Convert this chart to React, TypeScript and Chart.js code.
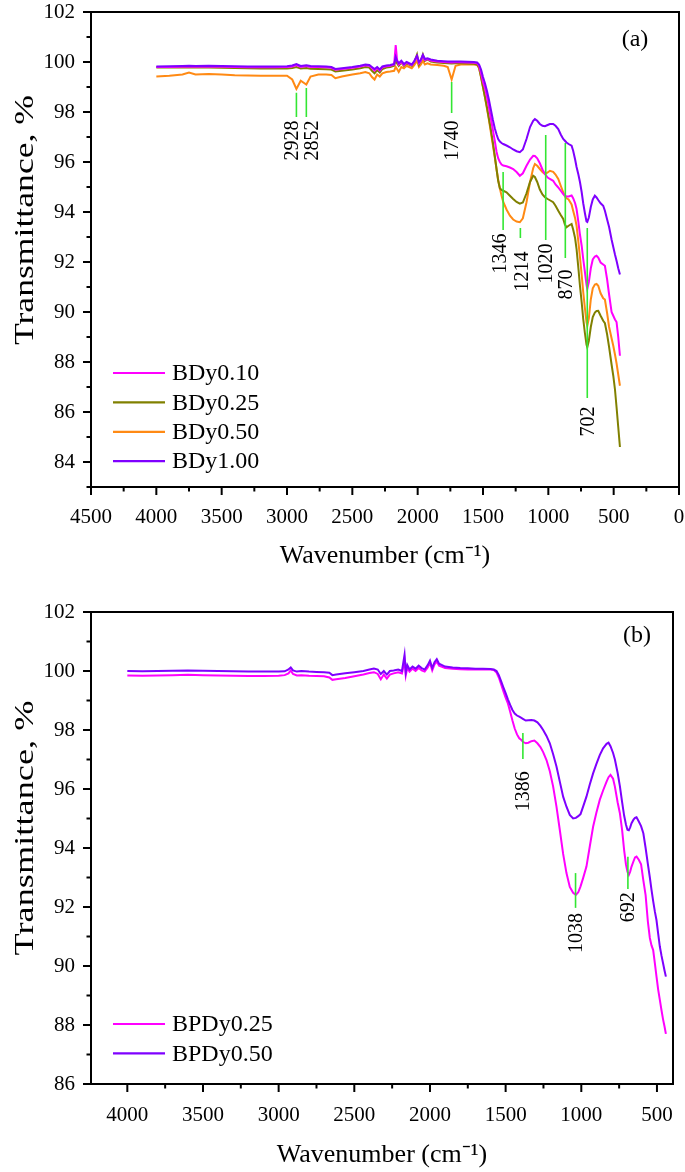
import React, { useEffect, useRef } from "react";
import { Chart, registerables } from "chart.js";

Chart.register(...registerables);

const FONT = '"Liberation Serif", "Times New Roman", serif';

// ---------------- Panel (a) data ----------------
const A_WN = [
  4000, 3900, 3800, 3750, 3700, 3600, 3500, 3400, 3300, 3200, 3100, 3000, 2960, 2928, 2895, 2852, 2820, 2760, 2700, 2660,
  2630, 2580, 2500, 2440, 2400, 2370, 2350, 2330, 2310, 2290, 2270, 2240, 2210, 2180, 2168, 2158, 2145, 2125, 2105, 2085,
  2065, 2045, 2025, 2005, 1990, 1975, 1960, 1945, 1925, 1900, 1850, 1800, 1770, 1740, 1710, 1670, 1620, 1570,
  1545, 1530, 1515, 1500, 1485, 1470, 1455, 1440, 1425, 1410, 1396, 1384, 1371, 1358, 1345, 1320, 1294, 1269, 1243, 1218,
  1195, 1167, 1140, 1116, 1103, 1085, 1065, 1045, 1026, 1005, 988, 963, 945, 924, 905, 886, 873, 861, 845, 822,
  810, 795, 784, 770, 758, 745, 733, 720, 708, 702, 690, 675, 660, 644, 631, 618, 600, 580, 567, 550,
  535, 516, 503, 490, 478, 465, 452,
];

const A_BDY010 = [
  99.8, 99.8, 99.81, 99.82, 99.81, 99.82, 99.81, 99.8, 99.79, 99.79, 99.79, 99.8, 99.82, 99.88, 99.8, 99.84, 99.8, 99.8, 99.79, 99.77,
  99.69, 99.72, 99.77, 99.82, 99.87, 99.85, 99.76, 99.66, 99.76, 99.66, 99.79, 99.83, 99.85, 99.9, 100.68, 100.1, 99.9, 100.0, 99.88, 99.98,
  99.92, 99.88, 100.02, 100.22, 99.95, 100.05, 100.25, 100.08, 100.12, 100.06, 100.02, 100.0, 99.99, 99.98, 99.99, 99.99, 99.98, 99.97,
  99.95, 99.85, 99.55, 99.2, 98.95, 98.62, 98.2, 97.75, 97.3, 96.85, 96.4, 96.15, 96.0, 95.9, 95.86, 95.83, 95.78, 95.72, 95.6, 95.45,
  95.55, 95.85, 96.1, 96.25, 96.24, 96.15, 95.95, 95.7, 95.52, 95.38, 95.32, 95.25, 95.1, 94.98, 94.85, 94.72, 94.65, 94.62, 94.62, 94.66,
  94.55, 94.35, 94.12, 93.6, 93.1, 92.65, 92.12, 91.6, 91.1, 90.92, 91.2, 91.75, 92.1, 92.22, 92.25, 92.18, 91.98, 91.9, 91.85, 91.3,
  90.7, 90.0, 89.85, 89.7, 89.6, 89.0, 88.25,
];

const A_BDY025 = [
  99.78, 99.78, 99.78, 99.79, 99.78, 99.78, 99.77, 99.76, 99.75, 99.74, 99.74, 99.74, 99.76, 99.8, 99.74, 99.76, 99.73, 99.72, 99.71, 99.7,
  99.62, 99.65, 99.7, 99.75, 99.8, 99.78, 99.65, 99.55, 99.68, 99.58, 99.72, 99.78, 99.8, 99.85, 100.1, 99.95, 99.85, 99.98, 99.85, 99.95,
  99.9, 99.85, 100.0, 100.3, 99.9, 100.05, 100.3, 100.05, 100.1, 100.02, 99.98, 99.96, 99.95, 99.94, 99.95, 99.95, 99.94, 99.93,
  99.9, 99.78, 99.4, 99.0, 98.6, 98.2, 97.75, 97.3, 96.8, 96.25, 95.7, 95.25, 94.95, 94.88, 94.85, 94.79, 94.65, 94.52, 94.4, 94.33,
  94.38, 94.75, 95.2, 95.45, 95.4, 95.2, 94.9, 94.7, 94.59, 94.52, 94.47, 94.39, 94.25, 94.05, 93.88, 93.72, 93.5, 93.39, 93.45, 93.52,
  93.3, 92.95, 92.52, 91.75, 91.05, 90.4, 89.72, 89.15, 88.7, 88.59, 88.85, 89.4, 89.8, 89.98, 90.04, 90.05, 89.85, 89.65, 89.55, 89.1,
  88.6, 87.9, 87.45, 86.9, 86.2, 85.4, 84.6,
];

const A_BDY050 = [
  99.42, 99.45, 99.5, 99.58, 99.5, 99.52, 99.5, 99.47, 99.46, 99.45, 99.45, 99.45, 99.3, 98.92, 99.25, 99.1, 99.42, 99.5, 99.5, 99.48,
  99.35, 99.42, 99.5, 99.55, 99.6, 99.55, 99.4, 99.3, 99.5, 99.42, 99.55, 99.6, 99.62, 99.65, 99.8, 99.72, 99.6, 99.8, 99.75, 99.85,
  99.8, 99.75, 99.88, 100.05, 99.8, 99.9, 100.05, 99.9, 99.95, 99.9, 99.88, 99.85, 99.8, 99.3, 99.85, 99.9, 99.9, 99.9,
  99.88, 99.75, 99.4, 99.0, 98.6, 98.15, 97.7, 97.2, 96.7, 96.2, 95.7, 95.3, 94.95, 94.65, 94.4, 94.1, 93.85, 93.7, 93.62, 93.59,
  93.75, 94.39, 95.2, 95.75, 95.92, 95.85, 95.72, 95.6, 95.52, 95.58, 95.65, 95.61, 95.5, 95.32, 95.05, 94.79, 94.62, 94.55, 94.5, 94.3,
  94.05, 93.75, 93.45, 92.8, 92.2, 91.5, 90.8, 90.15, 89.6, 89.45, 89.75, 90.5, 90.95, 91.1, 91.12, 91.05, 90.75, 90.55, 90.5, 89.95,
  89.4, 88.95, 88.65, 88.3, 87.95, 87.5, 87.05,
];

const A_BDY100 = [
  99.82, 99.83, 99.84, 99.85, 99.84, 99.85, 99.84, 99.83, 99.82, 99.82, 99.82, 99.83, 99.86, 99.92, 99.84, 99.87, 99.84, 99.83, 99.82, 99.8,
  99.72, 99.75, 99.8, 99.85, 99.9, 99.88, 99.8, 99.72, 99.8, 99.7, 99.82, 99.86, 99.88, 99.92, 100.2, 100.05, 99.95, 100.05, 99.92, 100.0,
  99.95, 99.9, 100.05, 100.25, 100.0, 100.1, 100.28, 100.12, 100.15, 100.1, 100.05, 100.03, 100.02, 100.02, 100.02, 100.02, 100.01, 100.0,
  99.98, 99.9, 99.7, 99.4, 99.15, 98.85, 98.5, 98.1, 97.7, 97.35, 97.1, 96.92, 96.82, 96.76, 96.72, 96.66, 96.59, 96.5, 96.43, 96.39,
  96.5, 96.92, 97.4, 97.65, 97.72, 97.65, 97.52, 97.45, 97.43, 97.48, 97.52, 97.52, 97.45, 97.32, 97.1, 96.92, 96.85, 96.78, 96.72, 96.65,
  96.45, 96.1, 95.8, 95.5, 95.2, 94.8, 94.35, 93.95, 93.62, 93.6, 93.78, 94.2, 94.5, 94.65, 94.58, 94.48, 94.35, 94.25, 94.05, 93.7,
  93.4, 92.9, 92.6, 92.3, 92.05, 91.75, 91.5,
];

const A_LABELS = ["BDy0.10", "BDy0.25", "BDy0.50", "BDy1.00"];
const A_X_TICKS = [4500, 4000, 3500, 3000, 2500, 2000, 1500, 1000, 500, 0];
const A_Y_TICKS = [84, 86, 88, 90, 92, 94, 96, 98, 100, 102];
const A_PEAKS = [2928, 2852, 1740, 1346, 1214, 1020, 870, 702];
const A_PEAK_TOP = [98.77, 98.96, 99.2, 95.6, 93.36, 97.08, 96.76, 93.36];
const A_PEAK_BOTTOM = [97.8, 97.8, 97.96, 93.28, 92.96, 92.88, 92.16, 86.56];
const A_PEAK_LABEL_AT = [97.66, 97.66, 97.66, 93.14, 92.42, 92.74, 91.7, 86.22];

// ---------------- Panel (b) data ----------------
const B_WN = [
  4000, 3900, 3800, 3700, 3600, 3500, 3400, 3300, 3200, 3100, 3000, 2960, 2935, 2920, 2905, 2880, 2850, 2800, 2750, 2700,
  2665, 2645, 2620, 2560, 2500, 2440, 2400, 2370, 2345, 2325, 2305, 2285, 2265, 2240, 2210, 2185, 2168, 2160, 2150, 2135,
  2115, 2095, 2075, 2055, 2035, 2015, 2000, 1985, 1970, 1955, 1940, 1920, 1900, 1850, 1800, 1750, 1700, 1650, 1600, 1578,
  1560, 1545, 1530, 1515, 1500, 1485, 1470, 1455, 1440, 1425, 1410, 1396, 1386, 1367, 1350, 1330, 1310, 1290, 1270, 1252,
  1230, 1208, 1186, 1164, 1142, 1120, 1098, 1076, 1054, 1036, 1020, 1005, 988, 966, 944, 922, 900, 878, 856, 833,
  820, 807, 790, 778, 760, 745, 730, 717, 705, 695, 686, 677, 668, 655, 645, 635, 620, 605, 590, 575,
  560, 547, 536, 525, 514, 503, 492, 481, 470, 460, 450, 441,
];

const B_BPDY025 = [
  99.85, 99.84, 99.85, 99.86, 99.87, 99.86, 99.85, 99.84, 99.83, 99.83, 99.84, 99.86, 99.92, 100.02, 99.9, 99.85, 99.86, 99.84, 99.83, 99.82,
  99.78, 99.7, 99.72, 99.76, 99.82, 99.88, 99.93, 99.96, 99.9, 99.72, 99.88, 99.74, 99.88, 99.92, 99.96, 99.92, 100.35, 99.85, 100.1, 99.98,
  100.08, 100.0, 100.1, 100.02, 99.98, 100.12, 100.28, 100.02, 100.22, 100.32, 100.18, 100.14, 100.1, 100.08, 100.06, 100.05, 100.05, 100.05, 100.05, 100.03,
  99.95, 99.78, 99.55, 99.32, 99.1, 98.9, 98.62, 98.32, 98.05, 97.85, 97.72, 97.66, 97.6, 97.55, 97.57, 97.62, 97.64, 97.55, 97.42, 97.25,
  96.98, 96.6, 96.08, 95.4, 94.61, 93.8, 93.15, 92.68, 92.48, 92.41, 92.5, 92.7, 92.98, 93.37, 94.05, 94.72, 95.2, 95.63, 95.95, 96.25,
  96.4, 96.48, 96.35, 96.08, 95.55, 95.18, 94.6, 93.93, 93.45, 93.2, 93.09, 93.2, 93.37, 93.55, 93.68, 93.71, 93.6, 93.45, 92.9, 92.4,
  91.5, 90.95, 90.7, 90.54, 90.1, 89.64, 89.2, 88.85, 88.5, 88.2, 87.95, 87.7,
];

const B_BPDY050 = [
  100.0, 99.99, 100.0, 100.01, 100.02, 100.01, 100.0, 99.99, 99.98, 99.98, 99.98, 99.99, 100.05, 100.12, 100.02, 99.98, 100.0, 99.98, 99.97, 99.96,
  99.94, 99.86, 99.88, 99.92, 99.96, 100.0, 100.05, 100.08, 100.05, 99.9, 100.0, 99.88, 100.0, 100.02, 100.05, 100.0, 100.55, 99.95, 100.2, 100.05,
  100.15, 100.08, 100.18, 100.1, 100.05, 100.2, 100.35, 100.1, 100.3, 100.4, 100.25, 100.2, 100.15, 100.12, 100.1, 100.09, 100.08, 100.08, 100.07, 100.05,
  100.0, 99.86, 99.66, 99.45, 99.25, 99.04, 98.85, 98.68, 98.56, 98.49, 98.45, 98.41, 98.38, 98.32, 98.33, 98.34, 98.32, 98.26, 98.14, 98.0,
  97.8, 97.55, 97.18, 96.76, 96.25, 95.74, 95.4, 95.12, 95.0, 95.02, 95.08, 95.15, 95.4, 95.74, 96.15, 96.53, 96.85, 97.15, 97.38, 97.53,
  97.57, 97.45, 97.22, 97.0, 96.55, 96.1, 95.55, 95.1, 94.8, 94.62, 94.6, 94.7, 94.84, 94.96, 95.02, 95.04, 94.9, 94.74, 94.5, 94.0,
  93.45, 93.0, 92.58, 92.2, 91.85, 91.55, 91.1, 90.66, 90.35, 90.1, 89.85, 89.64,
];

const B_LABELS = ["BPDy0.25", "BPDy0.50"];
const B_X_TICKS = [4000, 3500, 3000, 2500, 2000, 1500, 1000, 500];
const B_Y_TICKS = [86, 88, 90, 92, 94, 96, 98, 100, 102];
const B_PEAKS = [1386, 1038, 692];
const B_PEAK_TOP = [97.9, 93.15, 93.7];
const B_PEAK_BOTTOM = [97.02, 91.97, 92.61];
const B_PEAK_LABEL_AT = [96.6, 91.8, 92.5];

// ---------------- styles ----------------
const MAGENTA = "#FF00FF";
const OLIVE = "#808000";
const ORANGE = "#FF8A14";
const PURPLE = "#7F00FF";
const GREEN = "#33E633";

type PanelCfg = {
  panelLabel: string;
  panelLabelPos: [number, number];
  legendX: number;
  legendY: number;
  legendDy: number;
  peaks: number[];
  peakTop: number[];
  peakBottom: number[];
  peakLabelAt: number[];
  peakLabelShift: number[];
  xMajor: number[];
  yMajor: number[];
  xMinorStep: number;
  legendColors: string[];
  legendLabels: string[];
  yTitleBaselineX: number;
  yTitleCenterY: number;
  yTitleLength: number;
};

function makePlugin(cfg: PanelCfg) {
  return {
    id: "ftirDecor" + cfg.panelLabel,
    afterDatasetsDraw(chart: any) {
      const { ctx, scales } = chart;
      const x = scales.x;
      const y = scales.y;
      ctx.save();
      cfg.peaks.forEach((p, i) => {
        const px = x.getPixelForValue(p);
        const y1 = y.getPixelForValue(cfg.peakTop[i]);
        const y2 = y.getPixelForValue(cfg.peakBottom[i]);
        ctx.strokeStyle = GREEN;
        ctx.lineWidth = 1.6;
        ctx.beginPath();
        ctx.moveTo(px, y1);
        ctx.lineTo(px, y2);
        ctx.stroke();
        ctx.save();
        ctx.translate(px + (cfg.peakLabelShift[i] || 0), y.getPixelForValue(cfg.peakLabelAt[i]));
        ctx.rotate(-Math.PI / 2);
        ctx.font = `20px ${FONT}`;
        ctx.fillStyle = "#000";
        ctx.textAlign = "right";
        ctx.textBaseline = "middle";
        ctx.fillText(String(p), 0, 1);
        ctx.restore();
      });
      ctx.restore();
    },
    afterDraw(chart: any) {
      const { ctx, chartArea, scales } = chart;
      const x = scales.x;
      const y = scales.y;
      const { left, right, top, bottom } = chartArea;
      ctx.save();
      ctx.strokeStyle = "#000";
      ctx.lineWidth = 2;
      ctx.strokeRect(left, top, right - left, bottom - top);
      // y ticks
      for (let v = Math.ceil(y.min); v <= y.max; v += 1) {
        const major = cfg.yMajor.includes(v);
        const len = major ? 8 : 4.5;
        const py = y.getPixelForValue(v);
        ctx.beginPath();
        ctx.moveTo(left, py);
        ctx.lineTo(left - len, py);
        ctx.stroke();
      }
      // x ticks
      const start = Math.ceil(x.min / cfg.xMinorStep) * cfg.xMinorStep;
      for (let v = start; v <= x.max; v += cfg.xMinorStep) {
        const major = cfg.xMajor.includes(v);
        const len = major ? 8 : 4.5;
        const px = x.getPixelForValue(v);
        ctx.beginPath();
        ctx.moveTo(px, bottom);
        ctx.lineTo(px, bottom + len);
        ctx.stroke();
      }
      // y axis title (stretched along its length like the original)
      ctx.save();
      ctx.font = `27px ${FONT}`;
      const title = "Transmittance, %";
      const w = ctx.measureText(title).width;
      ctx.translate(cfg.yTitleBaselineX, cfg.yTitleCenterY);
      ctx.rotate(-Math.PI / 2);
      ctx.scale(cfg.yTitleLength / w, 1);
      ctx.fillStyle = "#000";
      ctx.textAlign = "center";
      ctx.textBaseline = "alphabetic";
      ctx.fillText(title, 0, 0);
      ctx.restore();
      // legend
      cfg.legendLabels.forEach((lab, i) => {
        const ly = cfg.legendY + i * cfg.legendDy;
        ctx.strokeStyle = cfg.legendColors[i];
        ctx.lineWidth = 2.2;
        ctx.beginPath();
        ctx.moveTo(cfg.legendX, ly);
        ctx.lineTo(cfg.legendX + 52, ly);
        ctx.stroke();
        ctx.fillStyle = "#000";
        ctx.font = `24px ${FONT}`;
        ctx.textAlign = "left";
        ctx.textBaseline = "middle";
        ctx.fillText(lab, cfg.legendX + 59, ly + 1);
      });
      // panel label
      ctx.fillStyle = "#000";
      ctx.font = `24px ${FONT}`;
      ctx.textAlign = "center";
      ctx.textBaseline = "middle";
      ctx.fillText(cfg.panelLabel, cfg.panelLabelPos[0], cfg.panelLabelPos[1]);
      ctx.restore();
    },
  };
}

function series(label: string, wn: number[], vals: number[], color: string, order: number) {
  return {
    label,
    data: wn.map((w, i) => ({ x: w, y: vals[i] })),
    borderColor: color,
    backgroundColor: color,
    borderWidth: 2,
    pointRadius: 0,
    fill: false,
    tension: 0,
    order,
  };
}

function buildConfig(opts: {
  datasets: any[];
  xMin: number;
  xMax: number;
  yMin: number;
  yMax: number;
  xTicks: number[];
  yTicks: number[];
  padTop: number;
  padRight: number;
  xHeight: number;
  xTickPad: number;
  xTitlePadBottom: number;
  plugin: any;
}) {
  return {
    type: "line" as const,
    data: { datasets: opts.datasets },
    options: {
      responsive: false,
      maintainAspectRatio: false,
      animation: false as const,
      devicePixelRatio: 1,
      events: [] as any[],
      layout: { padding: { left: 0, top: opts.padTop, right: opts.padRight, bottom: 0 } },
      plugins: { legend: { display: false }, tooltip: { enabled: false } },
      scales: {
        x: {
          type: "linear" as const,
          reverse: true,
          min: opts.xMin,
          max: opts.xMax,
          afterBuildTicks: (s: any) => {
            s.ticks = opts.xTicks.map((v) => ({ value: v }));
          },
          afterFit: (s: any) => {
            s.height = opts.xHeight;
            s.paddingLeft = 0;
            s.paddingRight = 0;
            s.paddingTop = 0;
            s.paddingBottom = 0;
          },
          grid: { display: false, drawTicks: false },
          border: { display: false },
          ticks: {
            font: { family: FONT, size: 21 },
            color: "#000",
            padding: opts.xTickPad,
            maxRotation: 0,
            autoSkip: false,
            callback: (v: any) => String(v),
          },
          title: {
            display: true,
            text: "Wavenumber (cm\u207B\u00B9)",
            font: { family: FONT, size: 26 },
            color: "#000",
            padding: { top: 0, bottom: opts.xTitlePadBottom },
          },
        },
        y: {
          type: "linear" as const,
          min: opts.yMin,
          max: opts.yMax,
          afterBuildTicks: (s: any) => {
            s.ticks = opts.yTicks.map((v) => ({ value: v }));
          },
          afterFit: (s: any) => {
            s.width = 91;
            s.paddingLeft = 0;
            s.paddingRight = 0;
            s.paddingTop = 0;
            s.paddingBottom = 0;
          },
          grid: { display: false, drawTicks: false },
          border: { display: false },
          ticks: {
            font: { family: FONT, size: 21 },
            color: "#000",
            padding: 16,
            autoSkip: false,
            callback: (v: any) => String(v),
          },
          title: { display: false },
        },
      },
    },
    plugins: [opts.plugin],
  };
}

export default function App() {
  const refA = useRef<HTMLCanvasElement | null>(null);
  const refB = useRef<HTMLCanvasElement | null>(null);

  useEffect(() => {
    if (!refA.current || !refB.current) return;

    const pluginA = makePlugin({
      panelLabel: "(a)",
      panelLabelPos: [635, 40],
      legendX: 113,
      legendY: 373,
      legendDy: 29.4,
      peaks: A_PEAKS,
      peakTop: A_PEAK_TOP,
      peakBottom: A_PEAK_BOTTOM,
      peakLabelAt: A_PEAK_LABEL_AT,
      peakLabelShift: [-5, 5, 0, -3, 1, 0, 0, 0],
      xMajor: A_X_TICKS,
      yMajor: A_Y_TICKS,
      xMinorStep: 250,
      legendColors: [MAGENTA, OLIVE, ORANGE, PURPLE],
      legendLabels: A_LABELS,
      yTitleBaselineX: 33,
      yTitleCenterY: 220,
      yTitleLength: 250,
    });

    const chartA = new Chart(
      refA.current,
      buildConfig({
        datasets: [
          series(A_LABELS[0], A_WN, A_BDY010, MAGENTA, 1),
          series(A_LABELS[1], A_WN, A_BDY025, OLIVE, 2),
          series(A_LABELS[2], A_WN, A_BDY050, ORANGE, 3),
          series(A_LABELS[3], A_WN, A_BDY100, PURPLE, 0),
        ],
        xMin: 0,
        xMax: 4500,
        yMin: 83,
        yMax: 102,
        xTicks: A_X_TICKS,
        yTicks: A_Y_TICKS,
        padTop: 12,
        padRight: 6,
        xHeight: 93,
        xTickPad: 18,
        xTitlePadBottom: 8,
        plugin: pluginA,
      }) as any
    );

    const pluginB = makePlugin({
      panelLabel: "(b)",
      panelLabelPos: [637, 56],
      legendX: 113,
      legendY: 444,
      legendDy: 29.4,
      peaks: B_PEAKS,
      peakTop: B_PEAK_TOP,
      peakBottom: B_PEAK_BOTTOM,
      peakLabelAt: B_PEAK_LABEL_AT,
      peakLabelShift: [0, 0, 0],
      xMajor: B_X_TICKS,
      yMajor: B_Y_TICKS,
      xMinorStep: 250,
      legendColors: [MAGENTA, PURPLE],
      legendLabels: B_LABELS,
      yTitleBaselineX: 33,
      yTitleCenterY: 248,
      yTitleLength: 255,
    });

    const chartB = new Chart(
      refB.current,
      buildConfig({
        datasets: [
          series(B_LABELS[0], B_WN, B_BPDY025, MAGENTA, 1),
          series(B_LABELS[1], B_WN, B_BPDY050, PURPLE, 0),
        ],
        xMin: 394,
        xMax: 4240,
        yMin: 86,
        yMax: 102,
        xTicks: B_X_TICKS,
        yTicks: B_Y_TICKS,
        padTop: 32,
        padRight: 12,
        xHeight: 88,
        xTickPad: 19,
        xTitlePadBottom: 1,
        plugin: pluginB,
      }) as any
    );

    return () => {
      chartA.destroy();
      chartB.destroy();
    };
  }, []);

  return (
    <div style={{ position: "absolute", left: 0, top: 0, width: 685, height: 1172, background: "#fff" }}>
      <canvas ref={refA} width={685} height={580} style={{ display: "block", width: 685, height: 580 }} />
      <canvas ref={refB} width={685} height={592} style={{ display: "block", width: 685, height: 592 }} />
    </div>
  );
}
